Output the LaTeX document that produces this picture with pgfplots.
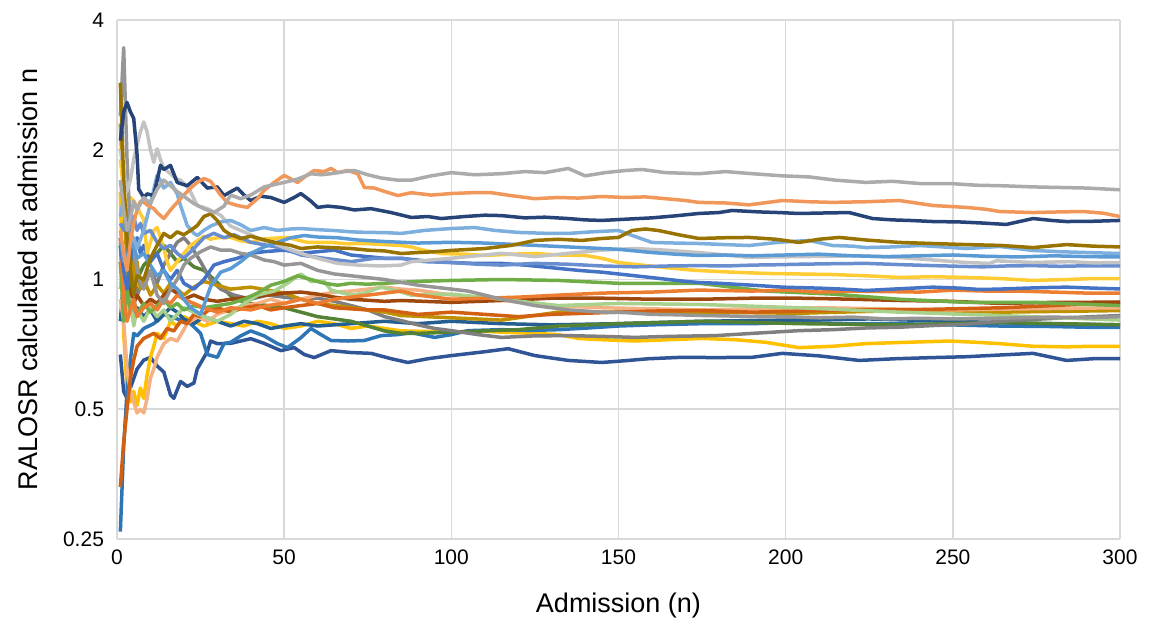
\documentclass[border=0pt]{standalone}
\usepackage{fontspec}
\setmainfont{Liberation Sans}
\usepackage{pgfplots}
\pgfplotsset{compat=1.18}

\definecolor{gridc}{HTML}{D9D9D9}
\definecolor{s1}{HTML}{ABABAB}
\definecolor{s2}{HTML}{F1975A}
\definecolor{s3}{HTML}{264478}
\definecolor{s4}{HTML}{997300}
\definecolor{s5}{HTML}{7CAFDD}
\definecolor{s6}{HTML}{5B9BD5}
\definecolor{s7}{HTML}{C3C3C3}
\definecolor{s8}{HTML}{969696}
\definecolor{s9}{HTML}{7F7F7F}
\definecolor{s10}{HTML}{698ED0}
\definecolor{s11}{HTML}{FFCD33}
\definecolor{s12}{HTML}{4472C4}
\definecolor{s13}{HTML}{ED7D31}
\definecolor{s14}{HTML}{70AD47}
\definecolor{s15}{HTML}{A9D18E}
\definecolor{s16}{HTML}{9E480E}
\definecolor{s17}{HTML}{D26012}
\definecolor{s18}{HTML}{F4B183}
\definecolor{s19}{HTML}{BF9000}
\definecolor{s20}{HTML}{548235}
\definecolor{s21}{HTML}{2E75B6}
\definecolor{s22}{HTML}{FFC000}
\definecolor{s23}{HTML}{255E91}
\definecolor{s24}{HTML}{2F5597}

\begin{document}
\begin{tikzpicture}
\useasboundingbox (-58.5pt,-40.5pt) rectangle (519pt,269.5pt);
\begin{axis}[
  scale only axis, width=501.5pt, height=259.5pt,
  xmin=0, xmax=300, ymin=0.25, ymax=4,
  ymode=log, log basis y=2,
  xtick={0,50,...,300},
  ytick={0.25,0.5,1,2,4}, yticklabels={0.25,0.5,1,2,4},
  grid=major, major grid style={draw=gridc, line width=0.8pt},
  axis line style={draw=none}, major tick length=0pt,
  tick label style={font=\fontsize{10.5}{12}\selectfont},
  /pgf/number format/assume math mode=true,
  xticklabel style={yshift=-2pt},
  yticklabel style={xshift=-3pt},
  xlabel={Admission (n)}, ylabel={RALOSR calculated at admission n},
  label style={font=\fontsize{13.5}{16}\selectfont},
  xlabel style={at={(axis description cs:0.5,-0.129)}, anchor=center},
  ylabel style={at={(axis description cs:-0.0887,0.5)}, anchor=center},
  every axis plot/.append style={line width=1.75pt, mark=none, line join=round},
]
% S24 dark blue, bottom
\addplot[s24] coordinates {(1,0.67)(2,0.55)(3,0.53)(4,0.56)(6,0.62)(8,0.65)(10,0.66)(12,0.63)(14,0.61)(16,0.54)(17,0.53)(19,0.58)(21,0.565)(23,0.575)(24,0.62)(27,0.68)(28,0.72)(30,0.71)(34,0.711)(37,0.72)(40,0.729)(44,0.711)(49,0.684)(53,0.695)(56,0.67)(59,0.659)(64,0.684)(70,0.677)(76,0.674)(82,0.655)(87,0.642)(93,0.655)(100,0.666)(110,0.68)(117,0.691)(125,0.666)(135,0.649)(145,0.642)(152,0.648)(159,0.655)(169,0.66)(179,0.659)(190,0.66)(199,0.674)(210,0.665)(222,0.649)(233,0.655)(244,0.659)(254,0.662)(264,0.668)(274,0.674)(284,0.649)(292,0.655)(300,0.655)};
% S22 yellow, lower
\addplot[s22] coordinates {(1,1.60)(2,0.75)(3,0.56)(4,0.52)(5,0.55)(6,0.51)(7,0.56)(8,0.53)(9,0.60)(10,0.66)(11,0.70)(12,0.75)(14,0.73)(16,0.80)(18,0.78)(20,0.82)(23,0.80)(26,0.78)(30,0.80)(34,0.79)(38,0.78)(42,0.80)(46,0.79)(50,0.77)(55,0.78)(60,0.80)(65,0.79)(70,0.77)(75,0.78)(80,0.77)(85,0.76)(92,0.758)(100,0.755)(108,0.76)(115,0.755)(125,0.75)(132,0.745)(138,0.73)(145,0.725)(155,0.72)(165,0.725)(175,0.73)(185,0.725)(194,0.715)(204,0.695)(214,0.70)(224,0.71)(236,0.715)(249,0.72)(257,0.715)(264,0.71)(274,0.70)(284,0.698)(292,0.70)(300,0.70)};
% S21 blue starting at 0.25
\addplot[s21] coordinates {(1,0.26)(2,0.41)(3,0.55)(4,0.65)(5,0.75)(6,0.74)(8,0.77)(11,0.79)(14,0.83)(16,0.82)(18,0.81)(20,0.80)(22,0.79)(25,0.75)(27,0.67)(30,0.66)(32,0.71)(34,0.715)(37,0.74)(40,0.76)(44,0.74)(48,0.71)(51,0.695)(55,0.733)(58,0.77)(61,0.745)(64,0.722)(69,0.72)(74,0.722)(79,0.741)(84,0.745)(88,0.753)(95,0.734)(100,0.745)(105,0.761)(115,0.765)(124,0.762)(132,0.765)(141,0.772)(150,0.78)(160,0.785)(175,0.79)(190,0.79)(204,0.795)(219,0.79)(234,0.79)(249,0.785)(264,0.78)(280,0.778)(290,0.775)(300,0.775)};
% S23 dark steel blue
\addplot[s23] coordinates {(1,0.80)(2,1.00)(3,0.85)(4,0.90)(5,0.80)(6,0.86)(8,0.82)(10,0.85)(12,0.80)(14,0.83)(16,0.86)(18,0.84)(20,0.81)(23,0.79)(26,0.82)(30,0.80)(34,0.78)(38,0.80)(42,0.79)(46,0.77)(50,0.78)(55,0.79)(60,0.78)(70,0.79)(80,0.80)(90,0.79)(100,0.80)(115,0.79)(130,0.785)(150,0.79)(175,0.80)(200,0.805)(225,0.81)(250,0.80)(275,0.79)(300,0.785)};
% S20 dark green
\addplot[s20] coordinates {(1,1.20)(2,0.90)(3,1.05)(4,0.95)(5,1.10)(6,1.00)(8,1.08)(10,1.12)(12,1.15)(14,1.20)(16,1.15)(18,1.10)(20,1.12)(23,1.07)(26,1.05)(29,1.00)(32,0.95)(35,0.90)(40,0.88)(45,0.87)(50,0.86)(55,0.84)(60,0.82)(65,0.81)(70,0.80)(75,0.78)(80,0.76)(85,0.75)(90,0.75)(100,0.755)(110,0.76)(120,0.765)(132,0.78)(150,0.79)(175,0.80)(204,0.79)(234,0.785)(264,0.795)(300,0.785)};
% S9 mid gray, low then rising
\addplot[s9] coordinates {(1,1.10)(2,0.95)(3,1.15)(4,1.00)(5,1.05)(6,0.92)(8,1.00)(10,1.05)(12,0.98)(14,1.08)(16,1.15)(18,1.22)(20,1.25)(22,1.20)(25,1.10)(28,1.00)(31,0.95)(35,0.92)(40,0.90)(45,0.92)(50,0.91)(55,0.90)(60,0.905)(65,0.89)(70,0.87)(75,0.85)(80,0.82)(85,0.803)(90,0.785)(95,0.77)(100,0.761)(108,0.745)(115,0.734)(125,0.74)(135,0.741)(145,0.738)(155,0.734)(165,0.738)(179,0.741)(190,0.75)(204,0.761)(214,0.765)(224,0.772)(234,0.775)(244,0.782)(254,0.788)(264,0.80)(274,0.808)(284,0.815)(292,0.82)(300,0.825)};
% S19 gold
\addplot[s19] coordinates {(1,2.30)(2,1.50)(3,1.10)(4,1.25)(5,1.00)(6,1.10)(7,0.95)(8,1.00)(10,0.92)(12,0.97)(14,0.93)(16,0.98)(18,0.95)(20,0.92)(23,0.96)(26,0.99)(30,0.97)(34,0.95)(40,0.96)(45,0.945)(50,0.93)(55,0.90)(60,0.88)(65,0.87)(70,0.86)(75,0.85)(80,0.84)(85,0.825)(100,0.815)(115,0.805)(132,0.84)(150,0.84)(175,0.84)(204,0.835)(234,0.847)(264,0.84)(300,0.847)};
% S18 salmon, dip near 0.5
\addplot[s18] coordinates {(1,0.90)(2,0.80)(3,0.62)(4,0.55)(5,0.52)(6,0.49)(7,0.50)(8,0.49)(9,0.53)(10,0.59)(11,0.62)(12,0.66)(14,0.71)(16,0.73)(18,0.72)(21,0.79)(24,0.82)(27,0.80)(30,0.83)(34,0.85)(38,0.87)(42,0.88)(46,0.90)(50,0.88)(55,0.90)(60,0.92)(65,0.935)(70,0.94)(75,0.95)(80,0.96)(85,0.95)(90,0.945)(100,0.92)(115,0.895)(130,0.87)(145,0.86)(160,0.855)(175,0.85)(190,0.855)(210,0.86)(230,0.855)(250,0.85)(270,0.855)(300,0.86)};
% S17 dark orange, rising from 0.4
\addplot[s17] coordinates {(1,0.33)(2,0.42)(3,0.50)(4,0.59)(5,0.65)(6,0.70)(8,0.73)(11,0.75)(13,0.73)(15,0.77)(17,0.76)(19,0.80)(21,0.79)(23,0.83)(25,0.82)(27,0.845)(30,0.86)(34,0.84)(38,0.86)(42,0.87)(46,0.85)(50,0.86)(55,0.87)(60,0.88)(65,0.86)(70,0.855)(75,0.85)(80,0.85)(85,0.84)(90,0.83)(100,0.84)(110,0.83)(120,0.82)(130,0.83)(140,0.835)(150,0.84)(160,0.845)(175,0.847)(190,0.84)(205,0.845)(220,0.85)(235,0.85)(250,0.855)(265,0.86)(280,0.87)(300,0.885)};
% S16 brown
\addplot[s16] coordinates {(1,0.95)(2,1.05)(3,0.90)(4,0.95)(5,0.88)(6,0.92)(8,0.87)(10,0.90)(12,0.88)(14,0.92)(16,0.95)(18,0.93)(20,0.90)(23,0.92)(26,0.90)(30,0.89)(34,0.90)(40,0.91)(45,0.92)(50,0.93)(55,0.935)(60,0.925)(65,0.91)(70,0.90)(75,0.895)(80,0.89)(85,0.894)(100,0.885)(115,0.894)(130,0.905)(145,0.905)(160,0.90)(175,0.90)(190,0.905)(204,0.905)(220,0.90)(234,0.894)(250,0.89)(264,0.88)(280,0.885)(300,0.886)};
% S15 light green
\addplot[s15] coordinates {(1,0.95)(2,1.10)(3,0.85)(4,0.90)(5,0.78)(6,0.85)(8,0.80)(10,0.86)(12,0.82)(14,0.85)(16,0.80)(18,0.83)(20,0.86)(23,0.84)(26,0.82)(30,0.80)(34,0.83)(38,0.88)(42,0.92)(47,0.94)(51,0.98)(55,1.03)(58,0.99)(62,0.99)(64,0.945)(70,0.92)(74,0.93)(79,0.96)(84,0.94)(88,0.92)(100,0.925)(115,0.90)(132,0.87)(150,0.88)(175,0.875)(204,0.86)(234,0.84)(264,0.825)(300,0.805)};
% S14 green
\addplot[s14] coordinates {(1,1.10)(2,0.80)(3,0.95)(4,0.85)(5,0.90)(6,0.83)(8,0.88)(10,0.84)(12,0.87)(14,0.90)(16,0.86)(18,0.88)(20,0.85)(23,0.87)(26,0.86)(30,0.87)(34,0.88)(38,0.90)(42,0.93)(46,0.97)(50,0.99)(54,1.02)(58,1.00)(62,0.98)(66,0.97)(70,0.98)(75,0.975)(80,0.98)(85,0.985)(90,0.99)(100,0.995)(115,1.00)(132,0.995)(150,0.98)(174,0.98)(194,0.94)(214,0.925)(234,0.90)(254,0.885)(274,0.885)(300,0.87)};
% S13 orange
\addplot[s13] coordinates {(1,1.25)(2,0.90)(3,0.80)(4,0.85)(5,0.90)(6,0.82)(8,0.86)(10,0.88)(12,0.85)(14,0.90)(16,0.88)(18,0.92)(20,0.90)(23,0.88)(26,0.86)(30,0.84)(34,0.86)(40,0.85)(45,0.87)(50,0.88)(55,0.90)(60,0.88)(65,0.90)(70,0.91)(75,0.92)(80,0.93)(85,0.94)(90,0.92)(100,0.90)(110,0.905)(120,0.91)(132,0.92)(145,0.93)(160,0.935)(174,0.945)(190,0.94)(200,0.945)(210,0.935)(220,0.94)(240,0.935)(250,0.945)(260,0.94)(270,0.94)(280,0.935)(290,0.93)(300,0.93)};
% S12 blue
\addplot[s12] coordinates {(1,1.20)(2,1.05)(3,0.95)(4,1.10)(5,1.20)(6,1.25)(7,1.15)(8,1.20)(10,1.10)(12,1.15)(14,1.05)(16,1.00)(18,1.05)(20,0.98)(23,0.95)(26,1.00)(29,1.08)(32,1.10)(36,1.12)(40,1.15)(44,1.16)(50,1.17)(55,1.15)(60,1.16)(65,1.17)(70,1.14)(75,1.13)(80,1.12)(85,1.12)(92,1.105)(100,1.095)(107,1.09)(115,1.09)(122,1.08)(130,1.065)(138,1.05)(145,1.04)(150,1.03)(155,1.02)(160,1.01)(165,1.00)(170,0.99)(174,0.984)(180,0.98)(185,0.975)(192,0.968)(199,0.96)(205,0.957)(210,0.955)(217,0.95)(224,0.943)(232,0.95)(238,0.955)(244,0.96)(252,0.955)(258,0.948)(264,0.95)(272,0.955)(278,0.958)(284,0.96)(292,0.955)(300,0.951)};
% S11 light yellow
\addplot[s11] coordinates {(1,1.90)(2,1.62)(3,1.40)(4,1.55)(5,1.52)(6,1.48)(7,1.42)(8,1.38)(9,1.15)(10,1.22)(11,1.30)(12,1.32)(13,1.25)(14,1.18)(15,1.10)(16,1.05)(18,1.10)(20,1.15)(22,1.20)(24,1.23)(26,1.26)(28,1.24)(30,1.25)(34,1.252)(37,1.23)(40,1.219)(43,1.24)(46,1.245)(51,1.252)(54,1.235)(57,1.219)(60,1.22)(64,1.219)(69,1.21)(74,1.212)(80,1.205)(85,1.199)(88,1.19)(92,1.168)(97,1.149)(104,1.145)(110,1.137)(118,1.145)(125,1.149)(132,1.14)(140,1.137)(145,1.12)(150,1.095)(157,1.08)(164,1.066)(170,1.055)(174,1.049)(184,1.04)(194,1.033)(204,1.03)(214,1.027)(224,1.02)(234,1.011)(244,1.015)(254,1.011)(264,1.005)(274,0.995)(284,1.00)(292,1.005)(300,1.005)};
% S10 medium blue
\addplot[s10] coordinates {(1,1.35)(2,1.30)(3,1.45)(4,1.35)(5,1.40)(6,1.30)(7,1.35)(8,1.28)(10,1.30)(12,1.22)(14,1.18)(16,1.20)(18,1.15)(20,1.12)(23,1.18)(26,1.25)(29,1.28)(32,1.25)(35,1.27)(40,1.22)(45,1.20)(50,1.18)(55,1.14)(62,1.12)(70,1.10)(77,1.12)(85,1.12)(92,1.10)(100,1.095)(108,1.085)(115,1.08)(125,1.09)(135,1.085)(145,1.075)(155,1.07)(165,1.075)(174,1.077)(182,1.075)(190,1.08)(197,1.082)(204,1.085)(214,1.088)(224,1.09)(234,1.083)(244,1.077)(252,1.073)(259,1.07)(266,1.075)(274,1.077)(282,1.073)(290,1.076)(300,1.076)};
% S8 gray with the tall spike
\addplot[s8] coordinates {(1,2.40)(2,3.45)(3,1.90)(4,1.30)(5,1.20)(6,1.05)(7,0.98)(8,0.95)(10,1.05)(12,0.92)(14,0.88)(16,0.95)(18,1.00)(20,1.08)(22,1.12)(25,1.16)(28,1.19)(31,1.17)(34,1.17)(37,1.15)(40,1.14)(44,1.11)(47,1.10)(50,1.08)(55,1.09)(60,1.05)(65,1.03)(70,1.02)(75,1.01)(80,1.00)(85,0.985)(90,0.97)(95,0.96)(100,0.95)(105,0.94)(110,0.92)(115,0.90)(120,0.885)(125,0.87)(130,0.86)(135,0.85)(140,0.845)(145,0.84)(152,0.838)(160,0.83)(168,0.828)(175,0.825)(183,0.823)(190,0.82)(200,0.82)(210,0.815)(220,0.818)(230,0.81)(240,0.813)(250,0.81)(260,0.812)(270,0.815)(280,0.818)(290,0.815)(300,0.82)};
% S7 light gray
\addplot[s7] coordinates {(1,2.00)(2,1.80)(3,1.60)(4,1.70)(5,1.90)(6,2.05)(7,2.20)(8,2.32)(9,2.20)(10,2.00)(11,1.87)(12,2.01)(13,1.90)(14,1.81)(16,1.76)(17.5,1.715)(19,1.70)(21.5,1.626)(24,1.485)(27,1.46)(31,1.41)(34,1.33)(37,1.30)(40,1.27)(44,1.23)(47,1.21)(50,1.186)(55,1.15)(60,1.12)(66,1.09)(72,1.08)(79,1.075)(85,1.08)(88,1.10)(100,1.12)(105,1.13)(115,1.15)(125,1.13)(135,1.15)(145,1.17)(155,1.18)(164,1.17)(174,1.155)(182,1.14)(189,1.125)(196,1.128)(204,1.13)(213,1.132)(222,1.135)(234,1.125)(244,1.11)(254,1.095)(261,1.09)(263,1.105)(274,1.095)(285,1.10)(292,1.093)(300,1.095)};
% S6 blue, rising after 25
\addplot[s6] coordinates {(1,1.25)(2,1.10)(3,1.18)(4,1.30)(5,1.20)(6,1.12)(8,1.15)(10,1.08)(12,1.02)(14,1.05)(16,0.98)(18,0.95)(20,0.90)(22,0.86)(25,0.83)(28,0.963)(31,1.04)(34,1.06)(37,1.10)(40,1.149)(44,1.19)(48,1.22)(52,1.25)(56,1.265)(60,1.255)(66,1.25)(72,1.235)(80,1.225)(90,1.215)(100,1.22)(110,1.215)(120,1.205)(130,1.195)(140,1.185)(150,1.175)(160,1.155)(167,1.145)(174,1.137)(182,1.14)(190,1.135)(200,1.14)(210,1.145)(220,1.135)(230,1.13)(240,1.135)(250,1.14)(260,1.132)(270,1.128)(280,1.135)(290,1.13)(300,1.128)};
% S5 light blue
\addplot[s5] coordinates {(1,1.40)(2,1.55)(3,1.30)(4,1.22)(5,1.25)(6,1.18)(8,1.30)(10,1.50)(12,1.744)(13,1.70)(14,1.63)(16,1.68)(18,1.58)(19,1.485)(21,1.334)(23,1.28)(24,1.265)(26,1.30)(28,1.33)(31,1.36)(34,1.371)(37,1.34)(40,1.299)(44,1.32)(48,1.30)(52,1.31)(55,1.313)(60,1.305)(65,1.299)(70,1.29)(75,1.286)(80,1.285)(85,1.279)(92,1.30)(100,1.313)(107,1.32)(113,1.30)(120,1.286)(128,1.28)(135,1.279)(142,1.29)(150,1.299)(156,1.25)(160,1.219)(167,1.215)(174,1.212)(182,1.205)(189,1.199)(198,1.22)(207,1.232)(214,1.199)(220,1.195)(224,1.186)(232,1.19)(240,1.199)(247,1.19)(254,1.18)(264,1.193)(274,1.168)(282,1.16)(290,1.155)(300,1.149)};
% S4 olive
\addplot[s4] coordinates {(1,2.86)(2,1.70)(3,1.25)(4,1.05)(5,0.92)(6,1.02)(8,1.00)(10,1.12)(12,1.20)(14,1.279)(16,1.25)(18,1.29)(20,1.27)(22,1.30)(24,1.334)(26,1.40)(28,1.42)(30,1.37)(32,1.30)(34,1.27)(37,1.245)(40,1.26)(45,1.23)(49,1.212)(52,1.20)(55,1.18)(60,1.19)(65,1.185)(70,1.18)(75,1.17)(80,1.165)(85,1.149)(90,1.155)(95,1.16)(100,1.168)(110,1.18)(118,1.20)(125,1.232)(132,1.24)(139,1.232)(145,1.245)(150,1.252)(154,1.299)(158,1.31)(162,1.299)(168,1.27)(174,1.245)(182,1.25)(189,1.252)(197,1.24)(204,1.219)(210,1.24)(216,1.252)(224,1.235)(234,1.219)(244,1.212)(254,1.205)(264,1.20)(274,1.186)(284,1.205)(292,1.195)(300,1.19)};
% S3 navy
\addplot[s3] coordinates {(1,2.10)(2,2.45)(3,2.575)(4,2.45)(5,2.365)(6,1.95)(6.5,1.62)(8,1.55)(9,1.58)(11,1.566)(13,1.84)(14,1.80)(16,1.84)(18,1.68)(21,1.65)(24,1.725)(27,1.63)(30,1.64)(32,1.566)(36,1.63)(38,1.57)(40,1.525)(43,1.56)(46,1.55)(50,1.51)(53,1.55)(55,1.583)(58,1.52)(60,1.47)(63,1.48)(67,1.47)(71,1.45)(76,1.46)(82,1.43)(88,1.393)(93,1.40)(97,1.385)(104,1.40)(110,1.41)(115,1.407)(122,1.39)(128,1.395)(135,1.385)(140,1.375)(145,1.371)(152,1.38)(160,1.39)(167,1.405)(174,1.423)(180,1.43)(184,1.446)(192,1.435)(198,1.43)(204,1.423)(212,1.427)(219,1.43)(226,1.385)(232,1.375)(238,1.37)(244,1.363)(252,1.36)(259,1.352)(266,1.342)(274,1.385)(280,1.37)(284,1.363)(292,1.365)(300,1.371)};
% S2 light orange
\addplot[s2] coordinates {(1,1.30)(2,1.15)(3,1.05)(4,1.22)(5,1.35)(6,1.45)(7,1.52)(8,1.51)(9,1.49)(11,1.46)(12,1.43)(14,1.385)(16,1.45)(18,1.51)(20,1.57)(22,1.63)(24,1.68)(26,1.715)(28,1.69)(29,1.65)(31,1.57)(33,1.51)(36,1.485)(39,1.47)(42,1.54)(44,1.61)(47,1.68)(50,1.744)(54,1.68)(57,1.75)(59,1.79)(62,1.78)(64,1.81)(66,1.77)(69,1.79)(72,1.76)(74,1.635)(77,1.63)(79,1.61)(84,1.566)(88,1.59)(94,1.57)(100,1.583)(106,1.59)(112,1.59)(118,1.565)(125,1.54)(132,1.55)(138,1.545)(145,1.558)(152,1.55)(158,1.555)(164,1.54)(170,1.525)(174,1.51)(182,1.505)(189,1.49)(199,1.525)(207,1.515)(214,1.51)(224,1.515)(234,1.525)(244,1.485)(254,1.47)(260,1.455)(264,1.438)(274,1.43)(282,1.435)(289,1.438)(295,1.425)(300,1.40)};
% S1 top gray
\addplot[s1] coordinates {(1,1.70)(2,1.45)(3,1.30)(4,1.38)(5,1.52)(6,1.45)(8,1.55)(10,1.50)(12,1.62)(14,1.70)(16,1.65)(18,1.60)(20,1.56)(23,1.50)(26,1.46)(29,1.43)(32,1.48)(34,1.57)(37,1.54)(40,1.57)(44,1.64)(47,1.66)(50,1.68)(54,1.71)(58,1.76)(61,1.75)(64,1.76)(68,1.78)(71,1.79)(75,1.75)(79,1.72)(84,1.70)(88,1.70)(94,1.74)(100,1.77)(107,1.75)(115,1.76)(122,1.78)(128,1.77)(135,1.81)(140,1.74)(146,1.77)(152,1.79)(157,1.80)(164,1.77)(174,1.76)(182,1.78)(190,1.76)(199,1.74)(207,1.73)(215,1.70)(224,1.68)(232,1.69)(240,1.67)(249,1.67)(257,1.655)(265,1.65)(274,1.64)(282,1.635)(290,1.63)(300,1.615)};
\end{axis}
\end{tikzpicture}
\end{document}
